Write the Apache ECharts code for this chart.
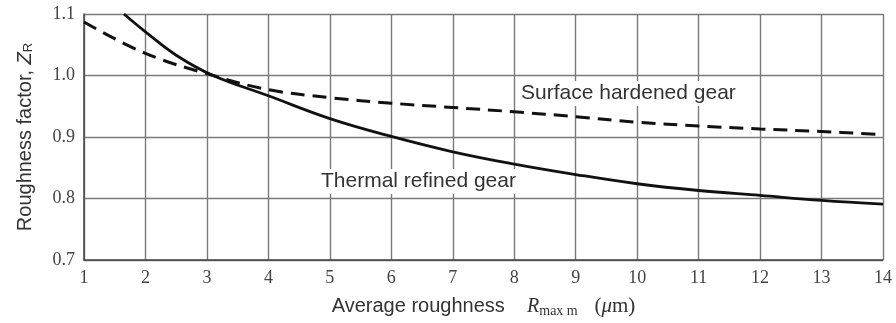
<!DOCTYPE html>
<html>
<head>
<meta charset="utf-8">
<script src="https://cdn.jsdelivr.net/npm/echarts@6/dist/echarts.min.js"></script>
<style>html,body{margin:0;padding:0;background:#fff;}#c{width:896px;height:323px;}</style>
</head>
<body>
<div id="c"></div>
<script>
var xTicks = [1,2,3,4,5,6,7,8,9,10,11,12,13,14];
var yTicks = [0.7,0.8,0.9,1.0,1.1];
var thermalX = [1.65, 2, 2.5, 3.1, 4, 5, 6, 7, 8, 9, 10, 11, 12, 13, 14];
var thermalY = [1.1, 1.071, 1.033, 1.0, 0.967, 0.930, 0.901, 0.876, 0.856, 0.839, 0.824, 0.813, 0.805, 0.797, 0.791];
var surfaceX = [1, 2, 3.1, 4, 5, 6, 7, 8, 9, 10, 11, 12, 13, 14];
var surfaceY = [1.087, 1.036, 1.0, 0.977, 0.964, 0.955, 0.948, 0.941, 0.933, 0.924, 0.918, 0.913, 0.909, 0.904];
var labelSurface = "Surface hardened gear";
var labelThermal = "Thermal refined gear";

function pairs(xs, ys){ return xs.map(function(x,i){return [x, ys[i]];}); }

var chart = echarts.init(document.getElementById('c'), null, {renderer:'canvas'});
var serif = '"Liberation Serif", "Times New Roman", serif';
var sans = '"Liberation Sans", Arial, sans-serif';
chart.setOption({
  animation: false,
  backgroundColor: '#fff',
  grid: {left: 84, right: 13, top: 14, bottom: 61},
  xAxis: {
    type: 'value', min: 1, max: 14, interval: 1,
    axisLine: {show: true, lineStyle: {color: '#444', width: 1.5}},
    axisTick: {show: false},
    splitLine: {show: true, lineStyle: {color: '#7a7a7a', width: 1.4}},
    axisLabel: {fontFamily: serif, fontSize: 18, color: '#444', margin: 9,
      formatter: function(v){ return xTicks.indexOf(v) >= 0 ? String(v) : ''; }},
    name: 'Average roughness    {ri|R}{sub|max m}   {p|(}{mu|μ}{p|m)}',
    nameLocation: 'middle', nameGap: 35,
    nameTextStyle: {fontFamily: sans, fontSize: 20, color: '#333',
      rich: {
        ri: {fontFamily: serif, fontStyle: 'italic', fontSize: 20, color: '#333'},
        sub: {fontFamily: serif, fontSize: 14, color: '#333', padding: [9,0,0,0]},
        p: {fontFamily: serif, fontSize: 21, color: '#333'},
        mu: {fontFamily: serif, fontStyle: 'italic', fontSize: 21, color: '#333'}
      }}
  },
  yAxis: {
    type: 'value', min: 0.7, max: 1.1, interval: 0.1,
    axisLine: {show: true, lineStyle: {color: '#444', width: 1.5}},
    axisTick: {show: false},
    splitLine: {show: true, lineStyle: {color: '#7a7a7a', width: 1.4}},
    axisLabel: {fontFamily: serif, fontSize: 18, color: '#444', margin: 9,
      formatter: function(v){ var r = Math.round(v*10)/10; return yTicks.indexOf(r) >= 0 ? r.toFixed(1) : ''; }},
    name: 'Roughness factor, {zi|Z}{sub|R}',
    nameLocation: 'middle', nameGap: 49, nameRotate: 90,
    nameTextStyle: {fontFamily: sans, fontSize: 20, color: '#333',
      rich: {
        zi: {fontFamily: sans, fontStyle: 'italic', fontSize: 20, color: '#333'},
        sub: {fontFamily: sans, fontSize: 13, color: '#333', padding: [7,0,0,0]}
      }}
  },
  series: [
    {type: 'line', data: pairs(thermalX, thermalY), smooth: 0.4, symbol: 'none', clip: true, z: 3,
     lineStyle: {color: '#111', width: 2.8}},
    {type: 'line', data: pairs(surfaceX, surfaceY), smooth: 0.4, symbol: 'none', clip: true, z: 3,
     lineStyle: {color: '#111', width: 3, type: [14, 8]}}
  ],
  graphic: [
    {type: 'text', left: 517, top: 81, z: 2, style: {text: labelSurface, font: '21px ' + sans, fill: '#333',
      backgroundColor: '#fff', padding: [2, 4, 2, 4]}},
    {type: 'text', left: 317, top: 169, z: 2, style: {text: labelThermal, font: '21px ' + sans, fill: '#333',
      backgroundColor: '#fff', padding: [2, 4, 2, 4]}}
  ]
});
</script>
</body>
</html>
